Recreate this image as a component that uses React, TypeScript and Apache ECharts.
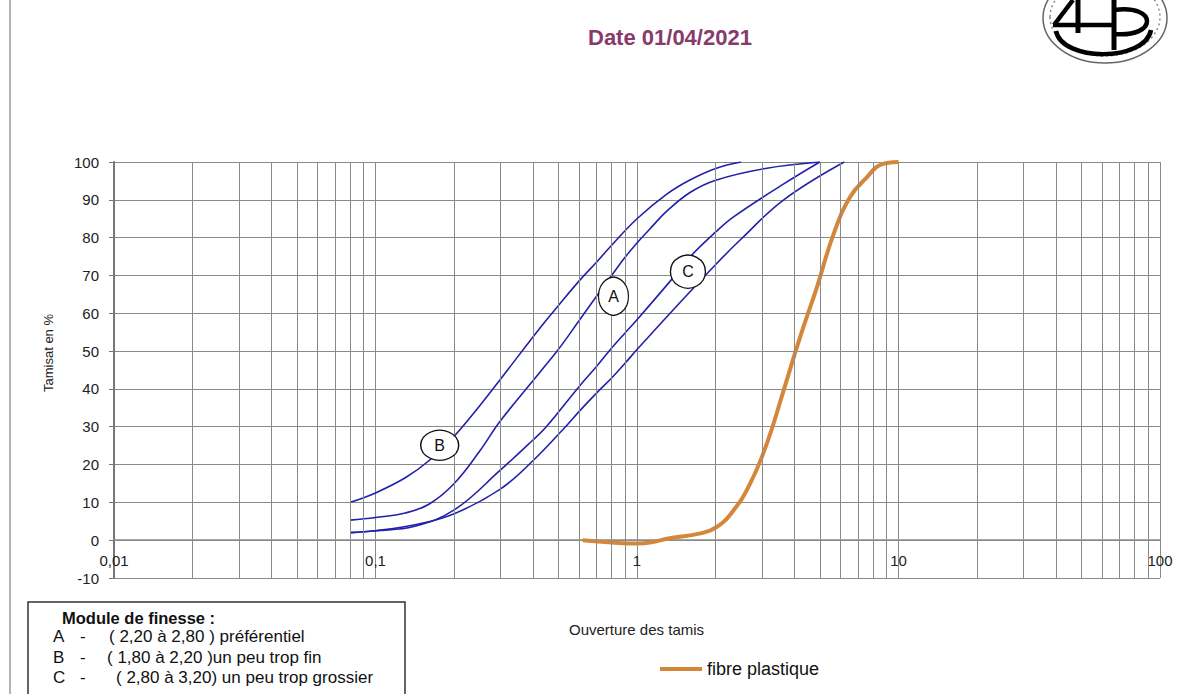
import React, { useEffect, useRef } from "react";
import * as echarts from "echarts";

const FONT = "'Liberation Sans', Arial, sans-serif";

// Vertical minor grid positions (log axis 2..9 of each decade)
const minorGridX = [
  0.02, 0.03, 0.04, 0.05, 0.06, 0.07, 0.08, 0.09,
  0.2, 0.3, 0.4, 0.5, 0.6, 0.7, 0.8, 0.9,
  2, 3, 4, 5, 6, 7, 8, 9,
  20, 30, 40, 50, 60, 70, 80, 90,
];

// Blue reference curves (x = ouverture mm, y = tamisat %)
const curveB: [number, number][] = [
  [0.08, 10], [0.1, 12.5], [0.13, 16.5], [0.16, 21], [0.2, 27.5], [0.25, 35.5],
  [0.3, 42.5], [0.43, 56.5], [0.5, 62], [0.6, 68.5], [0.7, 73.5], [0.8, 78],
  [1, 85], [1.3, 91.5], [1.6, 95.3], [2, 98.3], [2.5, 100],
];
const curveA: [number, number][] = [
  [0.08, 5.3], [0.1, 6], [0.13, 7.2], [0.16, 9.5], [0.2, 15], [0.25, 23.5],
  [0.3, 31.5], [0.43, 44.8], [0.5, 50.4], [0.6, 58], [0.7, 64.5], [0.8, 70],
  [0.9, 74.8], [1, 78.6], [1.11, 82], [1.3, 87], [1.6, 92], [2, 95.2],
  [3.1, 98.3], [5, 100],
];
const curveC: [number, number][] = [
  [0.08, 2], [0.1, 2.5], [0.14, 3.6], [0.2, 8], [0.3, 18.5], [0.4, 26.5],
  [0.45, 30], [0.6, 40.6], [0.7, 45.9], [0.8, 50.8], [0.9, 54.8], [1, 58.3],
  [1.34, 68.5], [1.6, 75], [2, 81.5], [2.34, 85.5], [3.64, 94.2], [5, 100],
];
const curveD: [number, number][] = [
  [0.08, 2], [0.1, 2.5], [0.14, 4], [0.2, 7], [0.3, 13.5], [0.4, 21],
  [0.533, 30], [0.6, 34], [0.7, 38.9], [0.8, 42.9], [0.9, 46.8], [1, 50.4],
  [1.38, 61], [2, 72.9], [2.49, 79.5], [3.64, 90], [6.2, 100],
];
// Fibre plastique
const fibreCurve: [number, number][] = [
  [0.62, 0], [0.8, -0.6], [1, -0.9], [1.15, -0.5], [1.3, 0.4], [1.75, 1.8],
  [2.02, 3.5], [2.34, 7.9], [2.71, 15], [3.14, 25.6], [3.64, 39.7],
  [4.21, 53.8], [4.88, 67], [5.65, 81], [6.54, 90.8], [7.58, 96],
  [8.5, 99.2], [10, 100],
];

// Curve tags
const tagLabels = ["A", "B", "C"];
const tagPoints: [number, number][] = [[0.813, 64.5], [0.176, 25.1], [1.566, 71]];
const tagSizes: [number, number][] = [[30, 38], [38, 30], [35, 33]];

const legendLines = [
  { letter: "A", text: "( 2,20 à 2,80 ) préférentiel", tx: 109 },
  { letter: "B", text: "( 1,80 à 2,20 )un peu trop fin", tx: 107 },
  { letter: "C", text: "( 2,80 à 3,20) un peu trop grossier", tx: 116 },
];

const BLUE = "#2121aa";
const ORANGE = "#d4873b";
const GRID = "#8a8a8a";

export default function App() {
  const ref = useRef<HTMLDivElement>(null);

  useEffect(() => {
    if (!ref.current) return;
    const chart = echarts.init(ref.current, null, { renderer: "svg" });

    const blueSeries = [curveB, curveA, curveC, curveD].map((d, i) => ({
      type: "line",
      name: "ref" + i,
      data: d,
      smooth: 0.4,
      symbol: "none",
      z: 3,
      lineStyle: { color: BLUE, width: 1.6 },
      itemStyle: { color: BLUE },
    }));

    const legendText: any[] = [
      {
        type: "text",
        left: 62,
        top: 609,
        style: { text: "Module de finesse :", font: `bold 16.5px ${FONT}`, fill: "#111" },
      },
    ];
    legendLines.forEach((l, i) => {
      const y = 628 + i * 20.5;
      legendText.push(
        { type: "text", left: 53, top: y, style: { text: l.letter, font: `17px ${FONT}`, fill: "#111" } },
        { type: "text", left: 80, top: y, style: { text: "-", font: `17px ${FONT}`, fill: "#111" } },
        { type: "text", left: l.tx, top: y, style: { text: l.text, font: `17px ${FONT}`, fill: "#111" } }
      );
    });

    const option: any = {
      animation: false,
      title: {
        text: "Date 01/04/2021",
        left: 583,
        top: 21,
        textStyle: { fontSize: 22, fontWeight: "bold", color: "#873a6b", fontFamily: FONT },
      },
      grid: { left: 114, right: 33, top: 162, bottom: 116 },
      legend: {
        data: ["fibre plastique"],
        left: 655,
        top: 655,
        icon: "rect",
        itemWidth: 42,
        itemHeight: 4,
        itemGap: 2,
        textStyle: { fontSize: 18, color: "#111", fontFamily: FONT },
      },
      xAxis: {
        type: "log",
        logBase: 10,
        min: 0.01,
        max: 100,
        splitNumber: 4,
        axisLine: { show: true, lineStyle: { color: GRID, width: 1.5 } },
        axisTick: { show: false },
        axisLabel: {
          fontSize: 15,
          color: "#222",
          fontFamily: FONT,
          margin: -25,
          formatter: (v: number) => String(Number(v.toPrecision(6))).replace(".", ","),
        },
        splitLine: { show: true, lineStyle: { color: GRID, width: 1 } },
      },
      yAxis: {
        type: "value",
        min: -10,
        max: 100,
        interval: 10,
        axisLine: { show: true, lineStyle: { color: "#777", width: 2 } },
        axisTick: { show: true, length: 5, lineStyle: { color: "#777" } },
        axisLabel: { fontSize: 15, color: "#222", fontFamily: FONT, margin: 15 },
        splitLine: { show: true, lineStyle: { color: GRID, width: 1 } },
      },
      series: [
        {
          type: "line",
          name: "_grid",
          data: [],
          z: 1,
          markLine: {
            silent: true,
            symbol: "none",
            label: { show: false },
            lineStyle: { color: GRID, type: "solid", width: 1 },
            data: minorGridX.map((v) => ({ xAxis: v })),
          },
        },
        ...blueSeries,
        {
          type: "line",
          name: "fibre plastique",
          data: fibreCurve,
          smooth: 0.45,
          symbol: "none",
          z: 4,
          lineStyle: { color: ORANGE, width: 4 },
          itemStyle: { color: ORANGE },
        },
        {
          type: "scatter",
          name: "tags",
          z: 5,
          data: tagPoints.map((p, i) => ({
            value: p,
            symbolSize: tagSizes[i],
            label: { show: true, formatter: tagLabels[i] },
          })),
          symbol: "circle",
          itemStyle: { color: "#fff", borderColor: "#111", borderWidth: 1.3, opacity: 1 },
          label: { show: true, position: "inside", fontSize: 16, color: "#111", fontFamily: FONT },
        },
      ],
      graphic: [
        // scanned page left edge
        { type: "line", shape: { x1: 10, y1: 0, x2: 10, y2: 694 }, style: { stroke: "#9a9a9a", lineWidth: 1.5 } },
        // y axis title
        {
          type: "text",
          x: 48,
          y: 353,
          rotation: Math.PI / 2,
          style: { text: "Tamisat en %", font: `13px ${FONT}`, fill: "#222", align: "center", verticalAlign: "middle" },
        },
        // x axis title
        {
          type: "text",
          left: 569,
          top: 622,
          style: { text: "Ouverture des tamis", font: `15px ${FONT}`, fill: "#222" },
        },
        // legend box
        {
          type: "rect",
          shape: { x: 28, y: 602, width: 377, height: 110 },
          style: { fill: "#fff", stroke: "#333", lineWidth: 1.5 },
          z: 0,
        },
        ...legendText,
        // logo
        { type: "ellipse", shape: { cx: 1105, cy: 18, rx: 62, ry: 45 }, style: { fill: "#fff", stroke: "#666", lineWidth: 1.5 } },
        { type: "ellipse", shape: { cx: 1105, cy: 17, rx: 55, ry: 39 }, style: { fill: "none", stroke: "#888", lineWidth: 1.5, lineDash: [2, 3] } },
        { type: "line", shape: { x1: 1073, y1: 0, x2: 1054, y2: 25 }, style: { stroke: "#000", lineWidth: 4.5 } },
        { type: "line", shape: { x1: 1053, y1: 25, x2: 1113, y2: 25 }, style: { stroke: "#000", lineWidth: 4.5 } },
        { type: "line", shape: { x1: 1078, y1: 0, x2: 1078, y2: 33 }, style: { stroke: "#000", lineWidth: 5 } },
        { type: "line", shape: { x1: 1114, y1: 0, x2: 1114, y2: 50 }, style: { stroke: "#000", lineWidth: 5 } },
        { type: "bezierCurve", shape: { x1: 1056, y1: 31, x2: 1151, y2: 30, cpx1: 1062, cpy1: 62, cpx2: 1145, cpy2: 62 }, style: { stroke: "#000", lineWidth: 4.5, fill: "none" } },
        { type: "bezierCurve", shape: { x1: 1114, y1: 10, x2: 1114, y2: 34, cpx1: 1158, cpy1: 4, cpx2: 1158, cpy2: 38 }, style: { stroke: "#000", lineWidth: 4.5, fill: "none" } },
      ],
    };

    chart.setOption(option);
    return () => chart.dispose();
  }, []);

  return (
    <div
      ref={ref}
      style={{ position: "fixed", left: 0, top: 0, width: 1193, height: 694, background: "#fff" }}
    />
  );
}
